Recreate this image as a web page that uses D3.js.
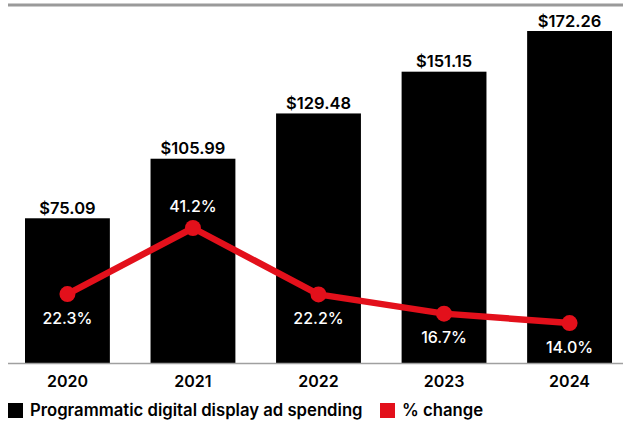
<!DOCTYPE html>
<html><head><meta charset="utf-8">
<script src="https://cdn.jsdelivr.net/npm/d3@7"></script>
<style>
html,body{margin:0;padding:0;background:#fff;}
svg{display:block;font-family:Inter,"Noto Sans",sans-serif;}
</style></head>
<body>
<svg id="c" width="623" height="422"></svg>
<script>
const years = ["2020","2021","2022","2023","2024"];
const spending = [75.09, 105.99, 129.48, 151.15, 172.26];
const pctChange = [22.3, 41.2, 22.2, 16.7, 14.0];
const spendLabels = ["$75.09","$105.99","$129.48","$151.15","$172.26"];
const pctLabels = ["22.3%","41.2%","22.2%","16.7%","14.0%"];
const legendItems = ["Programmatic digital display ad spending","% change"];

const svg = d3.select("#c");
const baseY = 363;
const x = d3.scaleBand().domain(years).range([25, 612]).paddingInner(0.324).paddingOuter(0);
const y = d3.scaleLinear().domain([0, 172.26]).range([baseY, 31]);
const y2 = d3.scaleLinear().domain([0, 41.2]).range([372, 228]);

svg.append("line").attr("x1",8).attr("x2",623).attr("y1",5).attr("y2",5)
  .attr("stroke","#9a9a9a").attr("stroke-width",3);

svg.selectAll("rect.bar").data(years).join("rect").attr("class","bar")
  .attr("x", d=>x(d)).attr("width", x.bandwidth())
  .attr("y", (d,i)=>y(spending[i])).attr("height",(d,i)=>baseY-y(spending[i]))
  .attr("fill","#000");

svg.selectAll("text.val").data(years).join("text").attr("class","val")
  .attr("x", d=>x(d)+x.bandwidth()/2).attr("y",(d,i)=>y(spending[i])-4.5)
  .attr("text-anchor","middle").attr("font-size",16.5).attr("font-weight",600)
  .attr("fill","#000").text((d,i)=>spendLabels[i]);

const axis = d3.axisBottom(x).tickSize(0).tickPadding(0);
const ag = svg.append("g").attr("transform",`translate(0,${baseY})`).call(axis);
ag.select(".domain").remove();
ag.selectAll("text").attr("dy",null).attr("y",24).attr("font-size",16).attr("font-weight",600).attr("fill","#000")
  .attr("font-family","Inter, 'Noto Sans', sans-serif");
svg.append("line").attr("x1",8).attr("x2",623).attr("y1",baseY+0.5).attr("y2",baseY+0.5)
  .attr("stroke","#a0a0a0").attr("stroke-width",1.5);

const line = d3.line().x((d,i)=>x(years[i])+x.bandwidth()/2).y(d=>y2(d));
svg.append("path").datum(pctChange).attr("d",line).attr("fill","none")
  .attr("stroke","#e3101b").attr("stroke-width",6.5).attr("stroke-linejoin","round");
svg.selectAll("circle.pt").data(pctChange).join("circle").attr("class","pt")
  .attr("cx",(d,i)=>x(years[i])+x.bandwidth()/2).attr("cy",d=>y2(d)).attr("r",8)
  .attr("fill","#e3101b");

svg.selectAll("text.pct").data(pctChange).join("text").attr("class","pct")
  .attr("x",(d,i)=>x(years[i])+x.bandwidth()/2)
  .attr("y",(d,i)=> i===1 ? y2(d)-16 : y2(d)+29.5)
  .attr("text-anchor","middle").attr("font-size",16).attr("font-weight",500)
  .attr("fill","#fff").text((d,i)=>pctLabels[i]);

const lg = svg.append("g");
lg.append("rect").attr("x",8).attr("y",403).attr("width",15).attr("height",15).attr("fill","#000");
lg.append("text").attr("x",30).attr("y",416).attr("font-size",16.7).attr("font-weight",600)
  .attr("fill","#000").text(legendItems[0]);
lg.append("rect").attr("x",380).attr("y",403).attr("width",15).attr("height",15).attr("fill","#e3101b");
lg.append("text").attr("x",402).attr("y",416).attr("font-size",16.7).attr("font-weight",600)
  .attr("fill","#000").text(legendItems[1]);
</script>
</body></html>
